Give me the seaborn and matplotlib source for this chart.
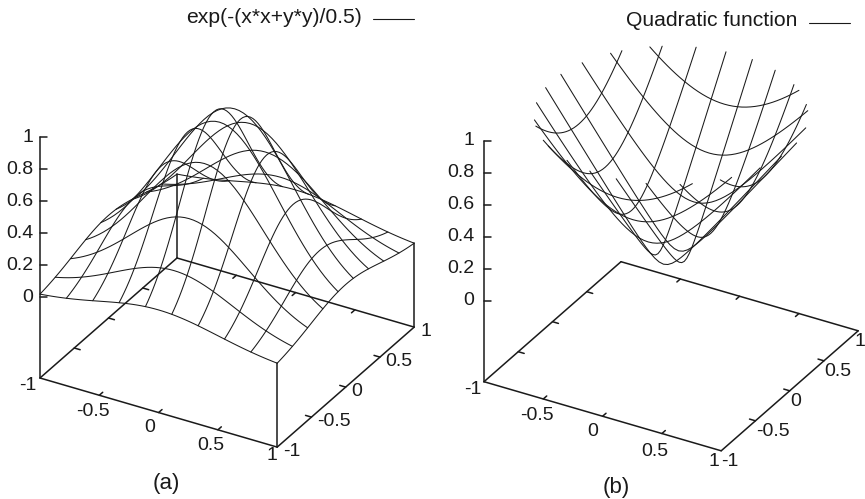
import numpy as np
import pandas as pd
import matplotlib
matplotlib.use("Agg")
import matplotlib.pyplot as plt
import seaborn as sns

# ---- values (profile from the centre of the base out to the edge) ----
gauss_half = [1.0000, 0.9973, 0.9891, 0.9756, 0.9571, 0.9337, 0.9060, 0.8742, 0.8390, 0.8007,
              0.7601, 0.7175, 0.6737, 0.6290, 0.5841, 0.5394, 0.4954, 0.4526, 0.4111, 0.3715,
              0.3337, 0.2982, 0.2651, 0.2343, 0.2059, 0.1800, 0.1565, 0.1353]
square_half = [0.0000, 0.0014, 0.0055, 0.0123, 0.0219, 0.0343, 0.0494, 0.0672, 0.0878, 0.1111,
               0.1372, 0.1660, 0.1975, 0.2318, 0.2689, 0.3086, 0.3512, 0.3964, 0.4444, 0.4952,
               0.5487, 0.6049, 0.6639, 0.7257, 0.7901, 0.8573, 0.9273, 1.0000]
z_ticks = [0, 0.2, 0.4, 0.6, 0.8, 1]
xy_ticks = [-1, -0.5, 0, 0.5, 1]
xy_tick_labels = ["-1", "-0.5", "0", "0.5", "1"]
legend_a = "exp(-(x*x+y*y)/0.5)"
legend_b = "Quadratic function"
caption_a = "(a)"
caption_b = "(b)"

# ---- layout ----
sns.set_theme(style="white")
plt.rcParams["font.family"] = ["Liberation Sans", "DejaVu Sans"]
INK = "#1a1a1a"
SURF_LW = 0.75
BOX_LW = 1.1
FS = 14
LEG_FS = 15.2
CAP_FS = 16

fig = plt.figure(figsize=(8.65, 4.99), dpi=100)
ax = fig.add_axes([0, 0, 1, 1])
ax.set_xlim(0, 865)
ax.set_ylim(499, 0)
ax.set_autoscale_on(False)
ax.axis("off")

gauss_profile = np.array(gauss_half[:0:-1] + gauss_half)
square_profile = np.array(square_half[:0:-1] + square_half)
samples = np.linspace(-1, 1, len(gauss_profile))
STEP = 6  # every sixth sample carries one of the ten isolines


def make_proj(ox, oy):
    ex = (118.6, 34.55)
    ey = (68.5, -60.0)
    def proj(x, y, z):
        return (ox + (x + 1) * ex[0] + (y + 1) * ey[0],
                oy + (x + 1) * ex[1] + (y + 1) * ey[1] - (z + 0.506) * 160.0)
    return proj


def clipped_line(pts):
    """Keep the part of a 3-D polyline at z <= 1, ending exactly on the clip plane."""
    out = []
    for a, b in zip(pts[:-1], pts[1:]):
        if a[2] <= 1:
            out.append(a)
        if (a[2] <= 1) != (b[2] <= 1):
            t = (1 - a[2]) / (b[2] - a[2])
            out.append(tuple(a[m] + t * (b[m] - a[m]) for m in range(3)))
    if pts[-1][2] <= 1:
        out.append(pts[-1])
    return out


def draw_surface(Z, proj):
    n = len(samples)
    rows = []
    uid = 0
    lines = [[(samples[i], samples[j], Z[i, j]) for j in range(n)] for i in range(0, n, STEP)]
    lines += [[(samples[i], samples[j], Z[i, j]) for i in range(n)] for j in range(0, n, STEP)]
    for pts in lines:
        for p in clipped_line(pts):
            px, py = proj(*p)
            rows.append((uid, px, py))
        uid += 1
    df = pd.DataFrame(rows, columns=["iso", "px", "py"])
    sns.lineplot(data=df, x="px", y="py", units="iso", estimator=None, sort=False,
                 color=INK, linewidth=SURF_LW, legend=False, ax=ax, zorder=10)


def draw_box(Z, proj):
    rows = []
    uid = 0
    def add(a, b):
        nonlocal uid
        rows.append((uid, a[0], a[1]))
        rows.append((uid, b[0], b[1]))
        uid += 1
    zb = -0.506
    c = [(-1, -1), (1, -1), (1, 1), (-1, 1)]
    for k in range(4):
        add(proj(*c[k], zb), proj(*c[(k + 1) % 4], zb))
    add(proj(-1, -1, zb), proj(-1, -1, 1))
    last = len(samples) - 1
    for (i, j), (x, y) in {(last, 0): (1, -1), (last, last): (1, 1), (0, last): (-1, 1)}.items():
        if Z[i, j] <= 1:
            add(proj(x, y, zb), proj(x, y, Z[i, j]))
    for t in xy_ticks[1:-1]:
        add(proj(t, -1, zb), proj(t, -0.95, zb))
        add(proj(t, 1, zb), proj(t, 0.95, zb))
        add(proj(-1, t, zb), proj(-0.95, t, zb))
        add(proj(1, t, zb), proj(0.95, t, zb))
    for t in z_ticks:
        p = proj(-1, -1, t)
        add(p, (p[0] + 6.5, p[1]))
    df = pd.DataFrame(rows, columns=["edge", "px", "py"])
    sns.lineplot(data=df, x="px", y="py", units="edge", estimator=None, sort=False,
                 color=INK, linewidth=BOX_LW, legend=False, ax=ax, zorder=50)


def legend_line(x0, x1, y):
    df = pd.DataFrame({"px": [x0, x1], "py": [y, y]})
    sns.lineplot(data=df, x="px", y="py", estimator=None, sort=False, color=INK,
                 linewidth=0.8, legend=False, ax=ax, zorder=50)


def label(x, y, s, ha="center", fs=FS):
    ax.text(x, y, s, ha=ha, va="center", fontsize=fs, color=INK, zorder=60)


def z_labels(x, y0):
    for t in z_ticks:
        label(x, y0 - t * 160, f"{t:g}", ha="right")


# panel (a)
proj_a = make_proj(40.0, 378.0)
Z_a = np.outer(gauss_profile, gauss_profile)
draw_surface(Z_a, proj_a)
draw_box(Z_a, proj_a)
z_labels(33.5, 297)
for s, (x, y) in zip(xy_tick_labels, [(28, 386), (93, 411), (150, 428), (211, 446), (272, 455)]):
    label(x, y, s)
for s, (x, y) in zip(xy_tick_labels, [(292, 452), (334, 421), (357, 391), (399, 361), (426, 332)]):
    label(x, y, s)
label(362, 17, legend_a, ha="right", fs=LEG_FS)
legend_line(373, 414, 18.5)
label(166, 483, caption_a, fs=CAP_FS)

# panel (b)
proj_b = make_proj(484.0, 381.7)
Z_b = np.sqrt(np.add.outer(square_profile, square_profile))
draw_surface(Z_b, proj_b)
draw_box(Z_b, proj_b)
z_labels(474.5, 300.7)
for s, (x, y) in zip(xy_tick_labels, [(473, 389), (537, 416), (593, 432), (655, 452), (714, 461)]):
    label(x, y, s)
for s, (x, y) in zip(xy_tick_labels, [(730, 462), (773, 432), (796, 402), (838, 372), (860, 342)]):
    label(x, y, s)
label(797, 20, legend_b, ha="right", fs=LEG_FS)
legend_line(809, 850, 23)
label(616, 487, caption_b, fs=CAP_FS)

fig.savefig("out.png", dpi=100)
